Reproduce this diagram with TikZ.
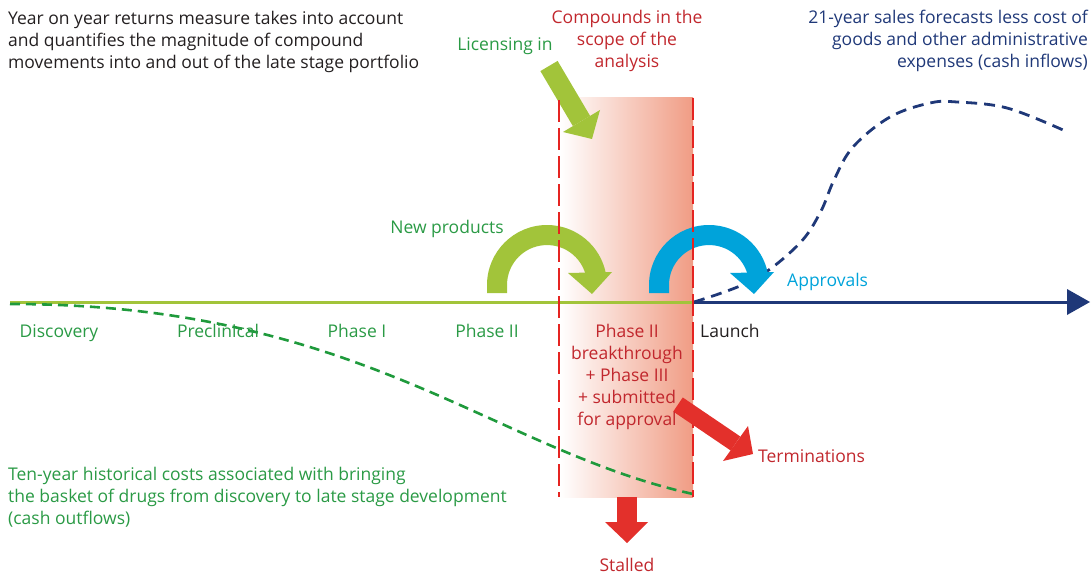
\documentclass[tikz,border=0pt]{standalone}
\usepackage{fontspec}
\setmainfont{Open Sans}
\definecolor{lgreen}{HTML}{A2C43A}
\definecolor{tgreen}{HTML}{2A9A45}
\definecolor{dgreen}{HTML}{1F9A3C}
\definecolor{dred}{HTML}{C1272D}
\definecolor{ared}{HTML}{E3302B}
\definecolor{lred}{HTML}{E52421}
\definecolor{salmon}{HTML}{F09C84}
\definecolor{cyanb}{HTML}{00A3DA}
\definecolor{navy}{HTML}{1F3878}
\definecolor{dtext}{HTML}{231F20}
\newcommand{\txtfont}{\fontsize{17.5}{22}\selectfont}
\tikzset{
  lbl/.style={inner sep=0pt, font=\txtfont},
  blk/.style={inner sep=0pt, font=\txtfont},
  vdash/.style={lred, line width=2.5pt, dash pattern=on 22pt off 6pt},
}
\begin{document}
\begin{tikzpicture}[x=1pt,y=1pt,yscale=-1]
\useasboundingbox (0,0) rectangle (1092,575);
% scope box
\shade[shading=axis, left color=white, right color=salmon] (560,98) rectangle (693,497);
% axis
\draw[lgreen, line width=3pt] (10,302) -- (694,302);
\draw[navy, line width=3pt] (694,302) -- (1068,302);
\fill[navy] (1067,289) -- (1090,302) -- (1067,315) -- cycle;
% cost curve
\draw[dgreen, line width=2.6pt, dash pattern=on 10pt off 6pt]
  (10,304) .. controls (360,304) and (493,450) .. (693,494);
% sales curve
\draw[navy, line width=2.8pt, dash pattern=on 11pt off 7pt] plot[smooth, tension=0.6] coordinates
  {(694,302) (753,280) (798,245) (820,213) (834,180) (853,147) (890,117) (930,103) (957,102) (1007,108) (1063,130)};
% new products arc arrow
\fill[lgreen] (487,293) -- (487,285) arc[start angle=180, end angle=350, radius=60]
  -- (586.4,278.1) arc[start angle=350, end angle=180, radius=40] -- (507,293) -- cycle;
\fill[lgreen] (568,273) -- (612,272) -- (592,294) -- cycle;
% approvals arc arrow
\fill[cyanb] (649,293) -- (649,285) arc[start angle=180, end angle=350, radius=60]
  -- (748.4,278.1) arc[start angle=350, end angle=180, radius=40] -- (669,293) -- cycle;
\fill[cyanb] (730,273) -- (774,272) -- (754,294) -- cycle;
% licensing in arrow
\draw[lgreen, line width=20pt] (549,66) -- (581.5,121);
\fill[lgreen] (563,132) -- (600,110) -- (592,139) -- cycle;
% dashed boundaries
\draw[vdash] (559,100) -- (559,497);
\draw[vdash] (693,98) -- (693,497);
% terminations arrow
\draw[ared, line width=17pt] (678,404.5) -- (735.5,443.5);
\fill[ared] (723,461) -- (748,426) -- (753,454) -- cycle;
% stalled arrow
\fill[ared] (617,497) rectangle (637,523);
\fill[ared] (605,522) -- (648,522) -- (627,543) -- cycle;
% texts
\node[blk, anchor=north west, align=left, text=dtext] (desc) at (8,8.6)
  {\strut Year on year returns measure takes into account\\and quantifies the magnitude of compound\\movements into and out of the late stage portfolio};
\node[blk, anchor=north, align=center, text=dred] (scope) at (627,7.6)
  {\strut Compounds in the\\scope of the\\analysis};
\node[blk, anchor=north east, align=right, text=navy] (sales) at (1088,7.6)
  {\strut 21-year sales forecasts less cost of\\goods and other administrative\\expenses (cash inflows)};
\node[lbl, anchor=base, text=tgreen] (lic) at (505,51) {Licensing in};
\node[lbl, anchor=base, text=tgreen] (newp) at (447,233) {New products};
\node[lbl, anchor=base west, text=cyanb] (appr) at (787,286) {Approvals};
\node[lbl, anchor=base, text=tgreen] (disc) at (59,337) {Discovery};
\node[lbl, anchor=base, text=tgreen] (prec) at (218,337) {Preclinical};
\node[lbl, anchor=base, text=tgreen] (ph1) at (357,337) {Phase I};
\node[lbl, anchor=base, text=tgreen] (ph2) at (487,337) {Phase II};
\node[lbl, anchor=base west, text=dtext] (launch) at (700,337) {Launch};
\node[blk, anchor=north, align=center, text=dred] (late) at (627,321.6)
  {\strut Phase II\\breakthrough\\+ Phase III\\+ submitted\\for approval};
\node[lbl, anchor=base west, text=dred] (term) at (758,462) {Terminations};
\node[lbl, anchor=base, text=dred] (stall) at (627,571) {Stalled};
\node[blk, anchor=north west, align=left, text=tgreen] (cost) at (8,464.6)
  {\strut Ten-year historical costs associated with bringing\\the basket of drugs from discovery to late stage development\\(cash outflows)};
\end{tikzpicture}
\end{document}
